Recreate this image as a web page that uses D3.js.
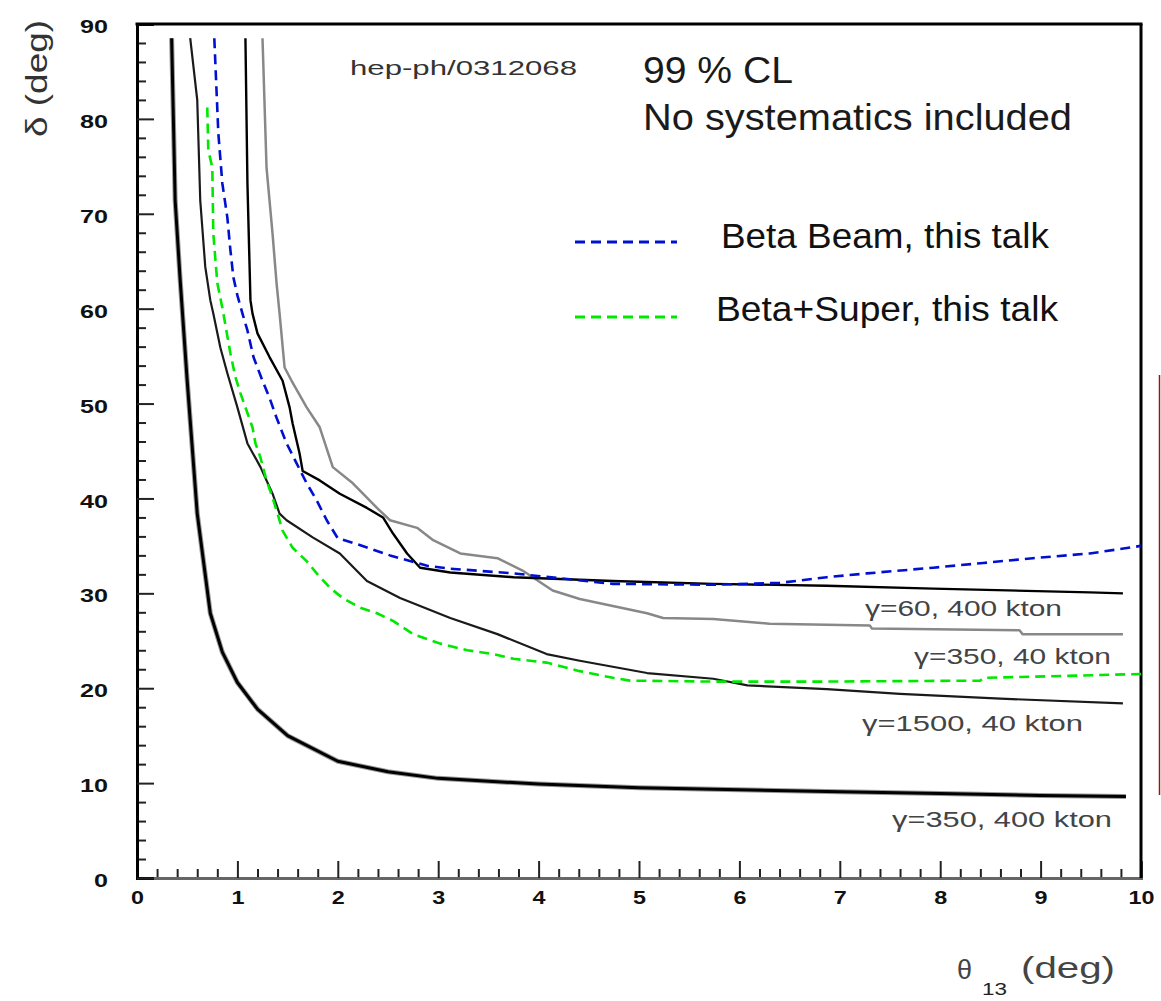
<!DOCTYPE html>
<html><head><meta charset="utf-8">
<script src="https://cdn.jsdelivr.net/npm/d3@7"></script>
<style>html,body{margin:0;padding:0;background:#fff;}svg{display:block;}text{font-family:"Liberation Sans",Arial,sans-serif;}</style>
</head><body>
<script>
// ---- data (theta13 in deg, delta in deg) ----
const g350_400_theta = [0.345,0.38,0.43,0.50,0.60,0.73,0.85,1.0,1.2,1.5,2.0,2.5,3.0,4.0,5.0,6.0,7.0,8.0,9.0,9.85];
const g350_400_delta = [88.5,71.4,63.0,52.4,38.4,27.9,23.8,20.6,17.8,15.0,12.3,11.2,10.5,9.9,9.5,9.3,9.1,8.9,8.7,8.6];

const g1500_40_theta = [0.53,0.60,0.63,0.68,0.73,0.76,0.83,0.90,1.00,1.10,1.23,1.35,1.42,1.49,1.75,2.02,2.29,2.62,3.12,3.59,4.08,4.41,5.08,5.74,6.08,6.87,7.60,8.60,9.82];
const g1500_40_delta = [88.5,82.0,71.4,64.4,60.9,59.5,55.9,53.2,49.6,45.8,43.3,40.5,38.4,37.7,35.9,34.2,31.3,29.5,27.4,25.7,23.6,22.9,21.6,21.0,20.3,19.9,19.4,18.9,18.4];

const g60_400_theta = [1.08,1.10,1.13,1.15,1.20,1.32,1.45,1.52,1.55,1.62,1.65,1.82,2.02,2.29,2.45,2.55,2.69,2.82,3.12,3.75,4.74,5.74,6.87,7.93,9.49,9.82];
const g60_400_delta = [88.5,73.2,60.9,59.5,57.4,54.9,52.4,49.6,47.9,44.7,42.9,41.9,40.5,39.0,38.0,36.3,34.2,32.7,32.2,31.7,31.3,31.0,30.8,30.5,30.1,30.0];

const g350_40_theta = [1.25,1.29,1.35,1.39,1.42,1.47,1.54,1.69,1.82,1.95,2.15,2.39,2.52,2.79,2.95,3.22,3.59,3.84,4.14,4.41,5.08,5.24,5.74,6.30,7.30,7.32,8.79,8.82,9.82];
const g350_40_delta = [88.5,74.9,67.9,62.7,59.5,53.8,52.4,49.6,47.5,43.3,41.6,39.0,37.7,36.9,35.6,34.2,33.7,32.4,30.3,29.4,27.9,27.4,27.3,26.8,26.6,26.3,26.1,25.7,25.7];

const betaBeam_theta = [0.77,0.81,0.85,0.90,0.93,0.96,1.00,1.05,1.10,1.16,1.25,1.32,1.39,1.49,1.59,1.69,1.79,1.89,2.00,2.19,2.52,2.89,3.12,3.75,4.74,5.74,6.40,6.87,7.27,7.93,8.43,8.92,9.49,10.0];
const betaBeam_delta = [88.5,78.5,73.2,69.6,66.2,63.3,61.4,59.5,57.7,54.9,52.4,50.6,48.5,45.8,43.7,41.6,39.8,37.7,35.8,35.2,34.0,32.9,32.6,32.1,31.0,30.9,31.1,31.7,32.1,32.7,33.2,33.7,34.2,35.0];

const betaSuper_theta = [0.70,0.71,0.75,0.76,0.80,0.85,0.89,0.93,0.98,1.03,1.10,1.15,1.18,1.23,1.29,1.35,1.40,1.45,1.55,1.69,1.79,1.92,2.05,2.22,2.39,2.55,2.75,3.02,3.29,3.55,3.75,4.08,4.41,4.74,4.91,5.74,6.87,8.40,8.43,9.26,10.0];
const betaSuper_delta = [81.2,76.7,74.9,67.9,62.7,60.1,57.7,55.3,52.8,51.1,49.0,47.5,45.8,44.3,41.9,40.1,38.4,36.6,34.8,33.4,32.1,30.6,29.5,28.5,27.9,27.1,25.7,24.7,24.0,23.6,23.1,22.7,21.8,21.1,20.8,20.7,20.7,20.8,21.1,21.3,21.5];

const xMajorTicks = [0,1,2,3,4,5,6,7,8,9,10];
const yMajorTicks = [0,10,20,30,40,50,60,70,80,90];

const curveLabels = ["γ=60, 400 kton","γ=350, 40 kton","γ=1500, 40 kton","γ=350, 400 kton"];
const legendLabels = ["Beta Beam, this talk","Beta+Super, this talk"];

// ---- layout ----
const W = 1161, H = 1001;
const svg = d3.select("body").append("svg").attr("width", W).attr("height", H);
svg.append("rect").attr("width", W).attr("height", H).attr("fill", "#fff");

const x = d3.scaleLinear().domain([0, 10]).range([137, 1141]);
const y = d3.scaleLinear().domain([0, 90]).range([878, 24]);

// minor ticks
const minorX = d3.range(0, 10.0001, 0.2).filter(v => Math.abs(v - Math.round(v)) > 1e-6);
const minorY = d3.range(0, 90.0001, 2).filter(v => v % 10 !== 0);

const gxMinor = svg.append("g").attr("transform", `translate(0,${y(0)})`)
  .call(d3.axisBottom(x).tickValues(minorX).tickSize(-9).tickFormat(""));
const gyMinor = svg.append("g").attr("transform", `translate(${x(0)},0)`)
  .call(d3.axisLeft(y).tickValues(minorY).tickSize(-9).tickFormat(""));
[gxMinor, gyMinor].forEach(g => { g.select(".domain").remove(); g.selectAll("line").attr("stroke", "#222").attr("stroke-width", 2); });

const gx = svg.append("g").attr("transform", `translate(0,${y(0)})`)
  .call(d3.axisBottom(x).tickValues(xMajorTicks).tickSize(-17).tickPadding(13).tickFormat(d3.format("d")));
gx.select(".domain").attr("stroke", "#666").attr("stroke-width", 3);
gx.selectAll("line").attr("stroke", "#222").attr("stroke-width", 2);
gx.selectAll("text").attr("font-size", 19).attr("font-weight", "bold").attr("fill", "#111")
  .attr("textLength", d => String(d).length * 13).attr("lengthAdjust", "spacingAndGlyphs");

const gy = svg.append("g").attr("transform", `translate(${x(0)},0)`)
  .call(d3.axisLeft(y).tickValues(yMajorTicks).tickSize(-17).tickPadding(29).tickFormat(d3.format("d")));
gy.select(".domain").attr("stroke", "#000").attr("stroke-width", 3);
gy.selectAll("line").attr("stroke", "#222").attr("stroke-width", 2);
gy.selectAll("text").attr("font-size", 19).attr("font-weight", "bold").attr("fill", "#111").attr("dy", "0.45em")
  .attr("textLength", d => String(d).length * 14).attr("lengthAdjust", "spacingAndGlyphs");

// top & right frame
svg.append("line").attr("x1", x(0) - 1.5).attr("x2", x(10) + 1.5).attr("y1", y(90)).attr("y2", y(90)).attr("stroke", "#000").attr("stroke-width", 3);
svg.append("line").attr("x1", x(10)).attr("x2", x(10)).attr("y1", y(90)).attr("y2", y(0)).attr("stroke", "#000").attr("stroke-width", 3);

// red line at right
svg.append("line").attr("x1", 1159.5).attr("x2", 1159.5).attr("y1", 375).attr("y2", 795).attr("stroke", "#a01010").attr("stroke-width", 1.5);

// curves
const line = d3.line().x(d => x(d[0])).y(d => y(d[1]));
function draw(tx, dy, color, width, dash) {
  const pts = tx.map((v, i) => [v, dy[i]]);
  const p = svg.append("path").datum(pts).attr("d", line).attr("fill", "none")
    .attr("stroke", color).attr("stroke-width", width).attr("stroke-linejoin", "round");
  if (dash) p.attr("stroke-dasharray", dash);
  return p;
}
draw(g350_400_theta, g350_400_delta, "#999", 5);
draw(g350_400_theta, g350_400_delta, "#000", 3);
draw(g1500_40_theta, g1500_40_delta, "#1a1a1a", 2.2);
draw(g350_40_theta, g350_40_delta, "#888", 2.5);
draw(g60_400_theta, g60_400_delta, "#000", 2.4);
draw(betaBeam_theta, betaBeam_delta, "#0010d0", 2.6, "10,6");
draw(betaSuper_theta, betaSuper_delta, "#00e800", 2.6, "10,6");

// texts
function txt(s, px, py, size, len, color) {
  const t = svg.append("text").attr("x", px).attr("y", py).attr("font-size", size).attr("fill", color || "#111").text(s);
  if (len) t.attr("textLength", len).attr("lengthAdjust", "spacingAndGlyphs");
  return t;
}
txt("hep-ph/0312068", 350, 75, 21, 227, "#333");
txt("99 % CL", 643, 83, 36, 150, "#1a1a1a");
txt("No systematics included", 643, 130, 36, 429, "#1a1a1a");

// legend
svg.append("line").attr("x1", 575).attr("x2", 677).attr("y1", 242).attr("y2", 242).attr("stroke", "#0010d0").attr("stroke-width", 3).attr("stroke-dasharray", "10,6");
svg.append("line").attr("x1", 575).attr("x2", 677).attr("y1", 317).attr("y2", 317).attr("stroke", "#00e800").attr("stroke-width", 3).attr("stroke-dasharray", "10,6");
txt(legendLabels[0], 721, 248, 35, 328, "#111");
txt(legendLabels[1], 716, 321, 35, 342, "#111");

// curve labels
const labPos = [[865, 616, 197], [914, 664, 197], [862, 731, 221], [892, 827, 220]];
curveLabels.forEach((s, i) => txt(s, labPos[i][0], labPos[i][1], 22, labPos[i][2], "#444"));

// axis titles
svg.append("text").attr("transform", "translate(47,137) rotate(-90)").attr("font-size", 30).attr("fill", "#333")
  .attr("textLength", 117).attr("lengthAdjust", "spacingAndGlyphs").text("δ (deg)");
txt("θ", 957, 979, 27, 15, "#444");
txt("13", 982, 995, 17, 25, "#222");
txt("(deg)", 1021, 978, 30, 94, "#444");
</script>
</body></html>
